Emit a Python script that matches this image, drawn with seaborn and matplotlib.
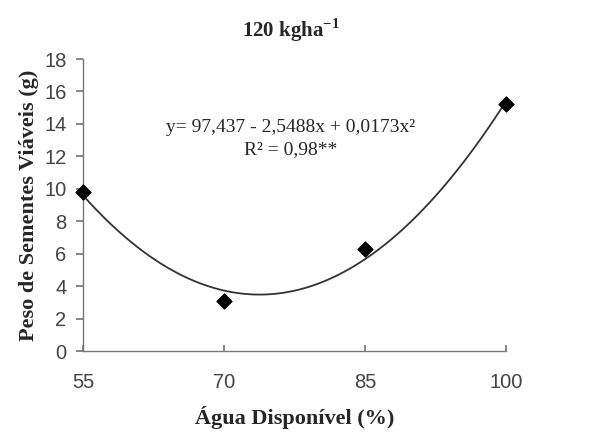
import matplotlib
matplotlib.use("Agg")
import matplotlib.pyplot as plt
import seaborn as sns
import pandas as pd

agua = [55, 70, 85, 100]
peso = [9.8, 3.1, 6.3, 15.2]
x_ticks = [55, 70, 85, 100]
y_ticks = [0, 2, 4, 6, 8, 10, 12, 14, 16, 18]
title = "120 kgha$^{\\mathregular{-1}}$"
equation = "y= 97,437 - 2,5488x + 0,0173x²"
r2_text = "R² = 0,98**"

df = pd.DataFrame({"agua": agua, "peso": peso})

sns.set_theme(style="white")
plt.rcParams["font.family"] = ["Liberation Sans", "DejaVu Sans"]

fig = plt.figure(figsize=(5.94, 4.34), dpi=100)
ax = fig.add_axes([0.14, 0.191, 0.712, 0.673])

sns.regplot(data=df, x="agua", y="peso", order=2, ci=None, scatter=False,
            line_kws=dict(color="#333333", lw=1.3), ax=ax)
sns.scatterplot(data=df, x="agua", y="peso", marker="D", s=62, color="black",
                edgecolor="black", zorder=5, ax=ax, clip_on=False)

ax.set_xlim(55, 100)
ax.set_ylim(0, 18)
ax.set_xticks(x_ticks)
ax.set_yticks(y_ticks)
ax.set_xticklabels([str(v) for v in x_ticks], fontsize=14.5, color="#444444")
ax.set_yticklabels([str(v) for v in y_ticks], fontsize=14.5, color="#444444")
for s in ["top", "right"]:
    ax.spines[s].set_visible(False)
for s in ["left", "bottom"]:
    ax.spines[s].set_color("#777777")
    ax.spines[s].set_linewidth(1.0)
ax.tick_params(axis="y", direction="out", length=5, color="#777777", left=True, pad=7)
ax.tick_params(axis="x", direction="in", length=4, color="#777777", bottom=True, pad=16)

serif = ["Liberation Serif", "DejaVu Serif"]
ax.set_xlabel("Água Disponível (%)", fontsize=16, fontweight="bold", family=serif, labelpad=10)
ax.set_ylabel("Peso de Sementes Viáveis (g)", fontsize=16, fontweight="bold", family=serif, labelpad=4)
fig.text(0.49, 0.93, title, ha="center", va="center", fontsize=15, fontweight="bold", family=serif)

ax.text(0.49, 0.764, equation, transform=ax.transAxes, ha="center", va="center",
        fontsize=14, family=serif)
ax.text(0.49, 0.69, r2_text, transform=ax.transAxes, ha="center", va="center",
        fontsize=14, family=serif)

fig.savefig("out.png", dpi=100)
